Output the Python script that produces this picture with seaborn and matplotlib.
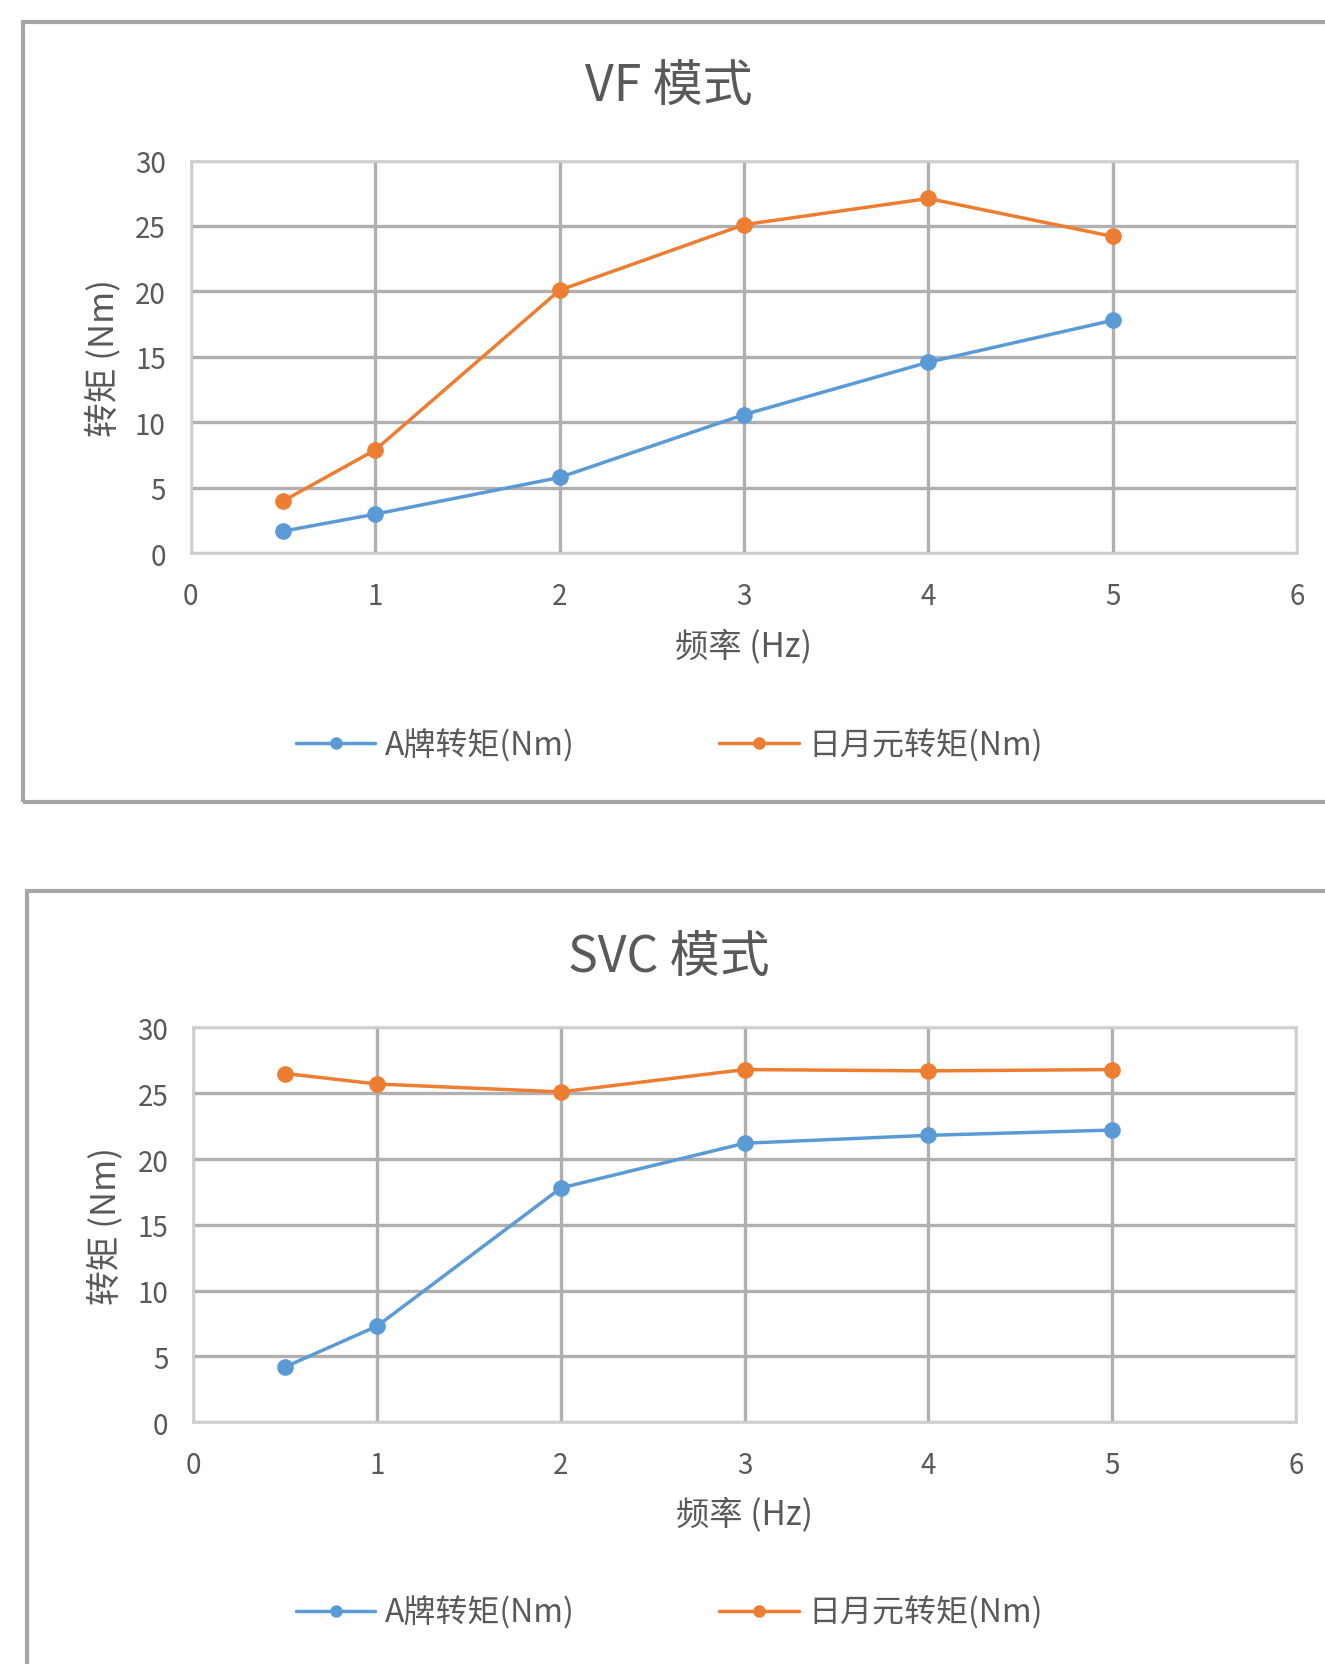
import matplotlib.pyplot as plt
import pandas as pd
import seaborn as sns
from matplotlib.patches import Rectangle

# 数据
freq = [0.5, 1, 2, 3, 4, 5]
vf_a = [1.7, 3.0, 5.8, 10.6, 14.6, 17.8]
vf_ryy = [4.0, 7.9, 20.1, 25.1, 27.1, 24.2]
svc_a = [4.2, 7.3, 17.8, 21.2, 21.8, 22.2]
svc_ryy = [26.5, 25.7, 25.1, 26.8, 26.7, 26.8]

titles = ['VF 模式', 'SVC 模式']
series_names = ['A牌转矩(Nm)', '日月元转矩(Nm)']
x_ticks = [0, 1, 2, 3, 4, 5, 6]
y_ticks = [0, 5, 10, 15, 20, 25, 30]

sns.set_style('white')
plt.rcParams['font.family'] = ['Noto Sans CJK SC', 'DejaVu Sans']

blue = '#5B9BD5'
orange = '#ED7D31'
text_grey = '#595959'

fig = plt.figure(figsize=(13.25, 16.65), dpi=100)

# 外框
fig.patches.append(Rectangle((0.017, 0.518), 1.0, 0.468, transform=fig.transFigure,
                             fill=False, edgecolor='#A6A6A6', linewidth=3))
fig.patches.append(Rectangle((0.020, -0.02), 1.0, 0.484, transform=fig.transFigure,
                             fill=False, edgecolor='#A6A6A6', linewidth=3))

panels = [
    ([0.144, 0.667, 0.835, 0.236], vf_a, vf_ryy, 0.947, 0.552),
    ([0.146, 0.1453, 0.832, 0.237], svc_a, svc_ryy, 0.424, 0.031),
]

for i, (pos, a_vals, r_vals, title_y, leg_y) in enumerate(panels):
    ax = fig.add_axes(pos)
    df = pd.DataFrame({
        'freq': freq * 2,
        'torque': a_vals + r_vals,
        'series': [series_names[0]] * len(freq) + [series_names[1]] * len(freq),
    })
    sns.lineplot(data=df, x='freq', y='torque', hue='series', ax=ax,
                 palette=[blue, orange], marker='o', markersize=12,
                 linewidth=2.5, markeredgewidth=0, legend=False)

    ax.set_xlim(0, 6)
    ax.set_ylim(0, 30)
    ax.set_xticks(x_ticks)
    ax.set_yticks(y_ticks)
    ax.grid(True, color='#B0B0B0', linewidth=2.4)
    ax.set_axisbelow(True)
    for s in ax.spines.values():
        s.set_color('#D0D0D0')
        s.set_linewidth(2)
    ax.tick_params(axis='x', labelsize=20, colors=text_grey, length=0, pad=20)
    ax.tick_params(axis='y', labelsize=20, colors=text_grey, length=0, pad=18)
    ax.set_xlabel('频率 (Hz)', fontsize=24, color=text_grey, labelpad=12)
    ax.set_ylabel('转矩 (Nm)', fontsize=25, color=text_grey, labelpad=10)

    fig.text(0.505, title_y, titles[i], ha='center', va='center',
             fontsize=36, color=text_grey)

    handles = [
        plt.Line2D([], [], color=blue, marker='o', markersize=9, linewidth=2.5,
                   markeredgewidth=0),
        plt.Line2D([], [], color=orange, marker='o', markersize=9, linewidth=2.5,
                   markeredgewidth=0),
    ]
    leg = fig.legend(handles, series_names, loc='center', bbox_to_anchor=(0.505, leg_y),
                     ncol=2, frameon=False, fontsize=23, columnspacing=4.5,
                     handlelength=2.5, handletextpad=0.3)
    for t in leg.get_texts():
        t.set_color(text_grey)

fig.savefig('out.png', dpi=100)
